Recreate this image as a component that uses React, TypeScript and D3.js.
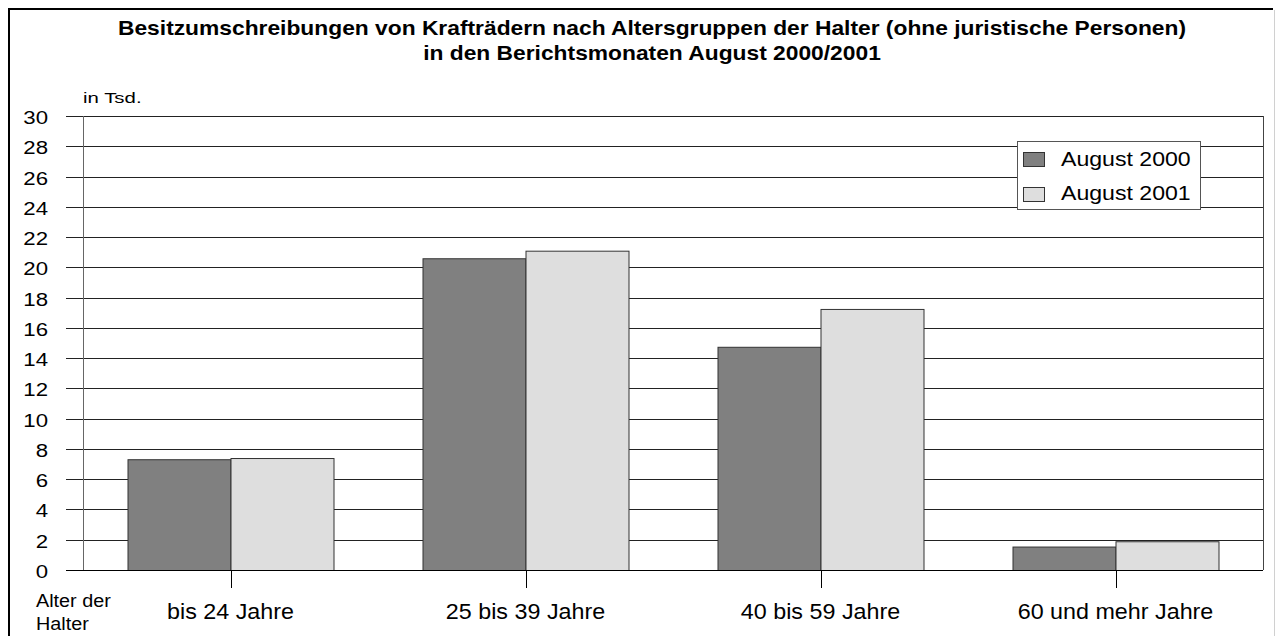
import { useEffect, useRef } from "react";
import * as d3 from "d3";

const categories = ["bis 24 Jahre", "25 bis 39 Jahre", "40 bis 59 Jahre", "60 und mehr Jahre"];
const seriesNames = ["August 2000", "August 2001"];
const values2000 = [7.32, 20.6, 14.75, 1.55];
const values2001 = [7.4, 21.1, 17.25, 1.9];
const yTicks = [0, 2, 4, 6, 8, 10, 12, 14, 16, 18, 20, 22, 24, 26, 28, 30];
const titleLines = [
  "Besitzumschreibungen von Krafträdern nach Altersgruppen der Halter (ohne juristische Personen)",
  "in den Berichtsmonaten August 2000/2001",
];

const colors = ["#808080", "#dedede"];
const font = "'Liberation Sans', Arial, sans-serif";

// the reference text is a bit wider than plain Arial, so stretch horizontally
const place = (x: number, y: number, sx: number) => `translate(${x},${y}) scale(${sx},1)`;

export default function App() {
  const svgRef = useRef<SVGSVGElement>(null);

  useEffect(() => {
    if (!svgRef.current) return;
    const svg = d3.select(svgRef.current);
    svg.selectAll("*").remove();

    const W = 1276;
    const H = 636;
    const plot = { left: 83, right: 1263, top: 116, bottom: 570 };

    svg.append("rect").attr("width", W).attr("height", H).attr("fill", "#fff");

    // outer frame
    svg.append("line").attr("x1", 9).attr("x2", 1273).attr("y1", 9).attr("y2", 9)
      .attr("stroke", "#000").attr("stroke-width", 2);
    svg.append("line").attr("x1", 9).attr("x2", 9).attr("y1", 8).attr("y2", H)
      .attr("stroke", "#000").attr("stroke-width", 2);
    svg.append("line").attr("x1", 1274.5).attr("x2", 1274.5).attr("y1", 10).attr("y2", H)
      .attr("stroke", "#d0d0d0").attr("stroke-width", 1);

    // title
    svg.append("g").selectAll("text").data(titleLines).join("text")
      .attr("transform", (_, i) => place(652, 35 + i * 25, 1.14))
      .attr("text-anchor", "middle")
      .attr("font-family", font)
      .attr("font-weight", "bold")
      .attr("font-size", "20px")
      .text((d) => d);

    const x = d3.scaleBand().domain(categories).range([plot.left, plot.right]);
    const y = d3.scaleLinear().domain([0, 30]).range([plot.bottom, plot.top]);
    const barW = 103;

    // grid lines
    svg.append("g").selectAll("line").data(yTicks).join("line")
      .attr("x1", 66).attr("x2", plot.right)
      .attr("y1", (d) => Math.round(y(d)) + 0.5)
      .attr("y2", (d) => Math.round(y(d)) + 0.5)
      .attr("stroke", "#222").attr("stroke-width", 1);

    // y axis line
    svg.append("line").attr("x1", plot.left + 0.5).attr("x2", plot.left + 0.5)
      .attr("y1", plot.top).attr("y2", plot.bottom)
      .attr("stroke", "#666");
    // right frame of plot
    svg.append("line").attr("x1", plot.right + 0.5).attr("x2", plot.right + 0.5)
      .attr("y1", plot.top).attr("y2", plot.bottom)
      .attr("stroke", "#444");

    // y tick labels
    svg.append("g").selectAll("text").data(yTicks).join("text")
      .attr("transform", (d) => place(48, y(d) + 8, 1.2))
      .attr("text-anchor", "end")
      .attr("font-family", font)
      .attr("font-size", "18.5px")
      .text((d) => d);

    svg.append("text").attr("transform", place(83, 103, 1.36))
      .attr("font-family", font).attr("font-size", "15px").text("in Tsd.");

    // bars
    const series = [values2000, values2001];
    series.forEach((vals, si) => {
      svg.append("g").selectAll("rect").data(vals).join("rect")
        .attr("x", (_, i) => x(categories[i])! + x.bandwidth() / 2 - barW + si * barW + 0.5)
        .attr("y", (d) => y(d) + 0.5)
        .attr("width", barW)
        .attr("height", (d) => y(0) - y(d))
        .attr("fill", colors[si])
        .attr("stroke", "#333")
        .attr("stroke-width", 1);
    });

    // x axis baseline
    svg.append("line").attr("x1", 66).attr("x2", plot.right)
      .attr("y1", plot.bottom + 0.5).attr("y2", plot.bottom + 0.5)
      .attr("stroke", "#000");

    // category ticks
    svg.append("g").selectAll("line").data(categories).join("line")
      .attr("x1", (d) => Math.round(x(d)! + x.bandwidth() / 2) + 0.5)
      .attr("x2", (d) => Math.round(x(d)! + x.bandwidth() / 2) + 0.5)
      .attr("y1", plot.bottom).attr("y2", 588)
      .attr("stroke", "#000");

    svg.append("g").selectAll("text").data(categories).join("text")
      .attr("transform", (d) => place(x(d)! + x.bandwidth() / 2, 619, 1.06))
      .attr("text-anchor", "middle")
      .attr("font-family", font)
      .attr("font-size", "22px")
      .text((d) => d);

    svg.append("g").selectAll("text").data(["Alter der", "Halter"]).join("text")
      .attr("transform", (_, i) => place(36, 607 + i * 23, 1.07))
      .attr("font-family", font)
      .attr("font-size", "18.5px")
      .text((d) => d);

    // legend
    const lg = svg.append("g");
    lg.append("rect").attr("x", 1017.5).attr("y", 141.5).attr("width", 183).attr("height", 68)
      .attr("fill", "#fff").attr("stroke", "#555");
    seriesNames.forEach((name, i) => {
      lg.append("rect").attr("x", 1023.5).attr("y", 152.5 + i * 35).attr("width", 21).attr("height", 14)
        .attr("fill", colors[i]).attr("stroke", "#333");
      lg.append("text").attr("transform", place(1061, 166 + i * 34, 1.1))
        .attr("font-family", font).attr("font-size", "21px").text(name);
    });
  }, []);

  return <svg ref={svgRef} width={1276} height={636} style={{ position: "absolute", left: 0, top: 0, display: "block" }} />;
}
